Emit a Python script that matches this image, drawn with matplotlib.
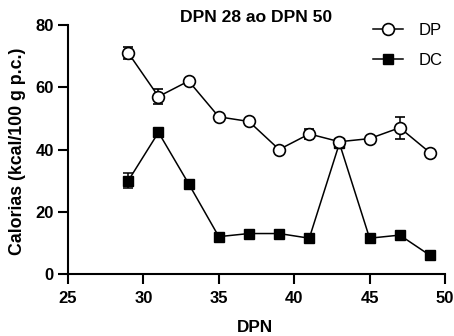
import matplotlib
matplotlib.use("Agg")
import matplotlib.pyplot as plt
from matplotlib.lines import Line2D

plt.rcParams['font.family'] = ['Liberation Sans', 'DejaVu Sans']

dpn = [29, 31, 33, 35, 37, 39, 41, 43, 45, 47, 49]
dp_vals = [71, 57, 62, 50.5, 49, 40, 45, 42.5, 43.5, 47, 39]
dp_err = [2, 2.5, 0.5, 0.5, 0.5, 0.5, 1.5, 1, 0.5, 3.5, 0.5]
dc_vals = [30, 45.5, 29, 12, 13, 13, 11.5, 42, 11.5, 12.5, 6]
dc_err = [2.5, 0.5, 0.5, 0.5, 0.5, 0.5, 0.5, 0.5, 0.5, 0.5, 0.5]
xticks = [25, 30, 35, 40, 45, 50]
yticks = [0, 20, 40, 60, 80]

fig = plt.figure(figsize=(4.54, 3.36), dpi=100)
ax = fig.add_axes([68 / 454, 1 - 274 / 336, 377 / 454, 249 / 336])

ax.errorbar(dpn, dc_vals, yerr=dc_err, color='black', lw=1.1,
            marker='s', ms=7.5, mfc='black', mec='black', capsize=3.5, elinewidth=1.1,
            capthick=1.1, zorder=2, clip_on=False)
ax.errorbar(dpn, dp_vals, yerr=dp_err, color='black', lw=1.1,
            marker='o', ms=8.5, mfc='white', mec='black', mew=1.2, capsize=3.5,
            elinewidth=1.1, capthick=1.1, zorder=3, clip_on=False)

ax.set_xlim(25, 50)
ax.set_ylim(0, 80)
ax.set_xticks(xticks)
ax.set_yticks(yticks)
for s in ['top', 'right']:
    ax.spines[s].set_visible(False)
for s in ['left', 'bottom']:
    ax.spines[s].set_linewidth(1.5)
ax.tick_params(width=1.5, length=7.2, labelsize=12)
ax.tick_params(axis='x', pad=5)
ax.tick_params(axis='y', pad=3)
for lab in ax.get_xticklabels() + ax.get_yticklabels():
    lab.set_fontweight('bold')

ax.set_xlabel('DPN', fontsize=12.3, fontweight='bold')
ax.xaxis.set_label_coords(0.496, -0.183)
ax.set_ylabel('Calorias (kcal/100 g p.c.)', fontsize=12.8, fontweight='bold')
ax.yaxis.set_label_coords(-0.111, 0.494)
fig.text(0.565, 0.948, 'DPN 28 ao DPN 50', ha='center', va='center', fontsize=12.6, fontweight='bold')

handles = [
    Line2D([], [], color='black', lw=1.1, marker='o', ms=8.5, mfc='white', mec='black', mew=1.2),
    Line2D([], [], color='black', lw=1.1, marker='s', ms=7.5, mfc='black', mec='black'),
]
ax.legend(handles, ['DP', 'DC'], loc='center left', bbox_to_anchor=(0.81, 0.918), frameon=False,
          fontsize=12, handlelength=1.75, labelspacing=0.9, handletextpad=0.95,
          borderpad=0, borderaxespad=0)

fig.savefig('out.png', dpi=100)
